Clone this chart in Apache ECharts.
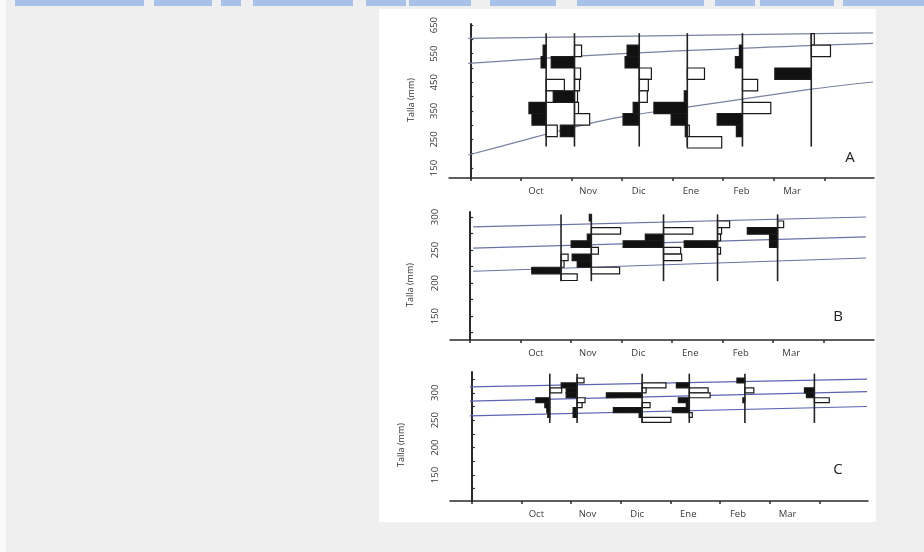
<!DOCTYPE html>
<html><head><meta charset="utf-8">
<script src="https://cdn.jsdelivr.net/npm/echarts@6/dist/echarts.min.js"></script>
<style>html,body{margin:0;padding:0;background:#efefef;}#c{width:924px;height:552px;}</style>
</head><body><div id="c"></div><script>
// ---- categories / tick labels ----
const meses = ['Oct','Nov','Dic','Ene','Feb','Mar'];
const mesTicks = [0,1,2,3,4,5,6,7];
const mesLabelPos = [1.3,2.33,3.33,4.36,5.36,6.36];
const tallaLabelsA = [150,250,350,450,550,650];
const tallaTicksA = [150,200,250,300,350,400,450,500,550,600,650];
const tallaLabelsB = [150,200,250,300];
const tallaTicksB = [125,150,175,200,225,250,275,300];
const tallaLabelsC = [150,200,250,300];
const tallaTicksC = [125,150,175,200,225,250,275,300,325];

// ---- sampling dates (months from axis origin) ----
const muestreoA = [1.50,2.06,3.34,4.29,5.38,6.74];
const muestreoB = [1.80,2.40,3.83,4.90,6.09];
const muestreoC = [1.57,2.12,3.43,4.38,5.50,6.90];
const rangoA = [225,622];
const rangoB = [203,304];
const rangoC = [245,335];
const claseA = 40, claseB = 10, claseC = 9;

// ---- histograms: [sample index, class lower bound (mm), frequency] ----
const negrasA = [[0,540,3],[0,500,5],[0,340,17],[0,300,14],
  [1,500,23],[1,380,21],[1,260,14],
  [2,540,12],[2,500,14],[2,340,6],[2,300,16],
  [3,380,3],[3,340,33],[3,300,16],[3,260,2],
  [4,540,3],[4,500,7],[4,300,25],[4,260,6],
  [5,460,36]];
const blancasA = [[0,420,18],[0,380,8],[0,260,11],
  [1,540,7],[1,460,6],[1,420,5],[1,380,3],[1,340,4],[1,300,15],
  [2,460,12],[2,420,9],[2,380,8],
  [3,460,17],[3,260,2],[3,220,34],
  [4,420,15],[4,340,28],
  [5,580,3],[5,540,19]];
const negrasB = [[0,214,29],
  [1,294,2],[1,264,4],[1,254,20],[1,234,19],[1,224,14],
  [2,264,18],[2,254,40],
  [3,254,33],
  [4,274,30],[4,264,8],[4,254,8]];
const blancasB = [[0,234,7],[0,224,3],[0,204,16],
  [1,274,29],[1,244,7],[1,214,28],
  [2,274,29],[2,244,17],[2,234,18],
  [3,284,12],[3,274,4],[3,264,3],[3,244,3],
  [4,284,6]];
const negrasC = [[0,282,14],[0,273,5],[0,264,3],[0,255,2],
  [1,309,16],[1,300,11],[1,291,11],[1,264,4],[1,255,4],
  [2,291,36],[2,264,29],[2,255,3],
  [3,309,13],[3,282,11],[3,273,3],[3,264,17],
  [4,318,8],[4,282,2],
  [5,300,10],[5,291,8]];
const blancasC = [[0,300,12],
  [1,318,7],[1,282,8],[1,273,5],
  [2,309,24],[2,300,4],[2,273,8],[2,246,29],
  [3,300,19],[3,291,21],[3,255,3],
  [4,300,9],
  [5,282,15]];

// ---- growth lines: [month, mm] ----
const crecA1 = [[-0.04,603.5],[7.96,623]];
const crecA2 = [[-0.04,516],[3.32,553],[7.96,586]];
const crecA3 = [[-0.04,195.5],[0.99,244],[1.98,290],[2.96,328],[4.29,363],[5.38,391],[6.74,426],[7.96,451]];
const crecB1 = [[0.06,285],[7.84,300]];
const crecB2 = [[0.06,253],[7.84,270]];
const crecB3 = [[0.06,218],[7.84,238]];
const crecC1 = [[-0.04,311],[7.96,325]];
const crecC2 = [[-0.04,285],[7.96,302]];
const crecC3 = [[-0.04,258],[7.96,275]];

const escala = 0.02; // months per frequency unit
const font = 'Open Sans';
const ink = '#2a2a2a';

const chart = echarts.init(document.getElementById('c'));

function xAxis(gi, min, max) {
  return {type:'value', gridIndex:gi, min, max,
    axisLine:{show:true, lineStyle:{color:ink, width:1.5}},
    axisTick:{show:true, customValues:mesTicks, length:3, lineStyle:{color:ink, width:1.5}},
    axisLabel:{show:true, customValues:mesLabelPos, margin:8, fontSize:9.5, color:'#3a3a3a', fontFamily:font,
      formatter:v => meses[Math.round(v - 0.33) - 1] || ''},
    splitLine:{show:false}};
}
function yAxis(gi, min, max, labels, ticks) {
  return {type:'value', gridIndex:gi, min, max,
    axisLine:{show:true, lineStyle:{color:ink, width:2}},
    axisTick:{show:true, inside:true, customValues:ticks, length:3, lineStyle:{color:ink, width:1.2}},
    axisLabel:{show:true, customValues:labels, rotate:90, margin:10, fontSize:9.5, color:'#3a3a3a', fontFamily:font},
    splitLine:{show:false}};
}
function hist(gi, data, muestreo, side, fill, clase) {
  return {type:'custom', xAxisIndex:gi, yAxisIndex:gi, silent:true, z:3,
    data:data.map(d => [muestreo[d[0]], d[1], d[2]]),
    encode:{x:0, y:1},
    renderItem:(params, api) => {
      const x = api.value(0), y0 = api.value(1), f = api.value(2);
      const p0 = api.coord([x, y0]);
      const p1 = api.coord([x + side * f * escala, y0 + clase]);
      return {type:'rect', shape:{x:Math.min(p0[0],p1[0]), y:Math.min(p0[1],p1[1]),
        width:Math.abs(p1[0]-p0[0]), height:Math.abs(p1[1]-p0[1])},
        style:{fill:fill, stroke:'#1a1a1a', lineWidth:1.2}};
    }};
}
function verticales(gi, muestreo, rango) {
  return {type:'custom', xAxisIndex:gi, yAxisIndex:gi, silent:true, z:4,
    data:muestreo.map(x => [x, rango[0], rango[1]]),
    encode:{x:0, y:1},
    renderItem:(params, api) => {
      const a = api.coord([api.value(0), api.value(1)]);
      const b = api.coord([api.value(0), api.value(2)]);
      return {type:'line', shape:{x1:a[0], y1:a[1], x2:b[0], y2:b[1]}, style:{stroke:'#222', lineWidth:1.6}};
    }};
}
function crec(gi, data, color, smooth) {
  return {type:'line', xAxisIndex:gi, yAxisIndex:gi, data:data, symbol:'none', smooth:smooth ? 0.35 : false,
    silent:true, z:2, lineStyle:{color:color, width:1.2}};
}

const strips = [[15,144],[154,212],[221,241],[253,353],[366,406],[409,471],[490,556],[577,704],[715,755],[760,834],[843,924]];
const graphics = [
  {type:'rect', shape:{x:0, y:0, width:6, height:552}, style:{fill:'#fafafa'}, z:-10},
  {type:'rect', shape:{x:379, y:9, width:497, height:513}, style:{fill:'#ffffff'}, z:-10}
].concat(strips.map(s => ({type:'rect', shape:{x:s[0], y:0, width:s[1]-s[0], height:6}, style:{fill:'#a7c1e8'}, z:-9})))
 .concat([
  {type:'text', x:411, y:100, rotation:Math.PI/2, style:{text:'Talla (mm)', fontSize:9, fontFamily:font, fill:'#333', align:'center', verticalAlign:'middle'}},
  {type:'text', x:410, y:285, rotation:Math.PI/2, style:{text:'Talla (mm)', fontSize:9, fontFamily:font, fill:'#333', align:'center', verticalAlign:'middle'}},
  {type:'text', x:401, y:445, rotation:Math.PI/2, style:{text:'Talla (mm)', fontSize:9, fontFamily:font, fill:'#333', align:'center', verticalAlign:'middle'}},
  {type:'text', x:850, y:158, style:{text:'A', fontSize:15, fontFamily:font, fill:'#222', align:'center', verticalAlign:'middle'}},
  {type:'text', x:838, y:317, style:{text:'B', fontSize:15, fontFamily:font, fill:'#222', align:'center', verticalAlign:'middle'}},
  {type:'text', x:838, y:470, style:{text:'C', fontSize:15, fontFamily:font, fill:'#222', align:'center', verticalAlign:'middle'}}
 ]);

chart.setOption({
  animation:false,
  backgroundColor:'#efefef',
  graphic:graphics,
  grid:[
    {left:449, top:24, width:425, height:154},
    {left:450, top:212, width:424, height:128},
    {left:450, top:372, width:418, height:129}
  ],
  xAxis:[xAxis(0,-0.42,7.98), xAxis(1,-0.4,8.0), xAxis(2,-0.44,7.98)],
  yAxis:[yAxis(0,115,654,tallaLabelsA,tallaTicksA), yAxis(1,114,307.6,tallaLabelsB,tallaTicksB), yAxis(2,102.5,338,tallaLabelsC,tallaTicksC)],
  series:[
    crec(0,crecA1,'#7a829f'), crec(0,crecA2,'#7a829f',true), crec(0,crecA3,'#7a829f',true),
    crec(1,crecB1,'#6a72a6'), crec(1,crecB2,'#6a72a6'), crec(1,crecB3,'#6a72a6'),
    crec(2,crecC1,'#5b64b2'), crec(2,crecC2,'#5b64b2'), crec(2,crecC3,'#5b64b2'),
    hist(0,blancasA,muestreoA,1,'#ffffff',claseA), hist(0,negrasA,muestreoA,-1,'#111111',claseA),
    hist(1,blancasB,muestreoB,1,'#ffffff',claseB), hist(1,negrasB,muestreoB,-1,'#111111',claseB),
    hist(2,blancasC,muestreoC,1,'#ffffff',claseC), hist(2,negrasC,muestreoC,-1,'#111111',claseC),
    verticales(0,muestreoA,rangoA), verticales(1,muestreoB,rangoB), verticales(2,muestreoC,rangoC)
  ]
});
</script></body></html>
